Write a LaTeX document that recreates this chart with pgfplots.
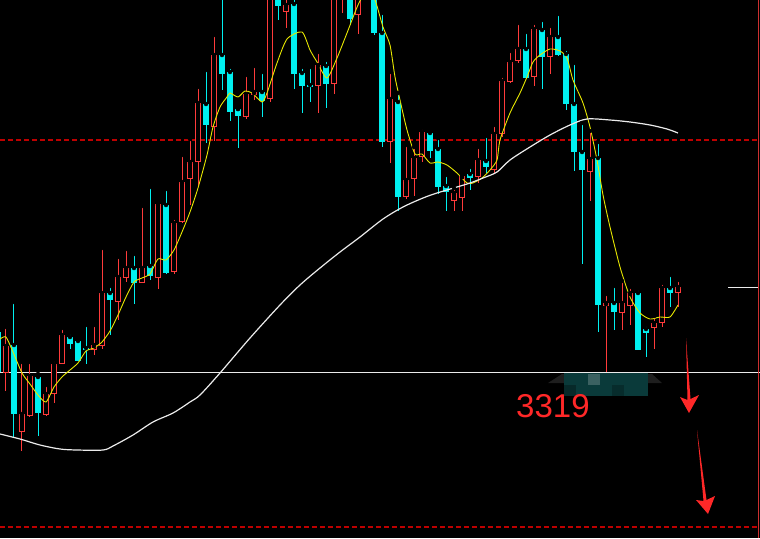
\documentclass[border=0pt]{standalone}
\usepackage{pgfplots}
\usepackage{pgfplotstable}
\pgfplotsset{compat=1.18}
\usepackage{fontspec}
\setmainfont{Liberation Sans}
\definecolor{candlered}{RGB}{255,59,59}
\definecolor{candlecyan}{RGB}{0,240,240}
\definecolor{mayellow}{RGB}{232,232,0}
\definecolor{mawhite}{RGB}{235,235,235}
\definecolor{dashred}{RGB}{190,0,0}
\definecolor{txtred}{RGB}{255,40,40}
\definecolor{blurA}{RGB}{30,30,30}
\definecolor{blurB}{RGB}{10,58,58}

% pixel-style coordinates: x = position, values measured from top
\pgfplotstableread{
x h top bot l
6 327 346 373 391
22 362 414 432 451
30 362 376 416 417
46 385 394 415 416
54 360 364 394 403
62 328 335 364 364
94 325 345 350 355
102 248 293 346 349
118 257 277 302 320
126 249 268 278 282
142 206 268 283 283
158 203 204 278 289
174 218 223 272 274
182 155 182 222 223
190 139 162 179 205
198 87 103 162 187
214 35 55 127 141
246 75 94 117 119
254 66 92 95 100
270 -10 -5 99 102
286 -5 5 12 28
318 52 65 86 113
334 -10 -5 84 94
342 -20 -15 -10 13
358 -10 -5 15 34
390 72 99 142 163
406 145 180 197 199
414 147 158 179 196
422 128 132 157 162
454 188 193 201 211
462 174 176 198 211
478 147 160 177 183
494 125 134 170 174
502 76 81 134 137
510 51 62 82 83
518 23 49 61 63
534 23 29 77 86
550 26 37 57 74
590 131 159 172 201
606 294 303 306 372
622 281 303 313 330
630 287 293 306 325
654 316 323 328 349
662 283 288 323 327
678 280 287 293 307
}\redtab

\pgfplotstableread{
x h top bot l
-2 320 332 372 380
14 302 345 414 438
38 374 377 413 436
70 333 337 344 349
78 339 341 361 361
86 325 348 350 364
110 286 293 300 335
134 254 268 283 304
150 187 266 276 280
166 189 205 273 274
206 70 104 125 143
222 -5 55 74 90
230 67 72 112 121
238 109 109 116 148
262 72 92 101 117
278 -10 -5 6 20
294 -5 4 74 89
302 67 73 86 113
310 67 85 87 102
326 60 66 84 108
350 -10 -5 19 25
374 -10 -5 33 35
382 13 33 142 147
398 93 102 197 211
430 131 133 151 158
438 138 149 187 194
446 175 186 192 211
470 167 174 178 190
486 136 161 167 173
526 32 49 78 78
542 20 30 57 89
558 14 37 55 56
566 49 54 104 110
574 63 104 152 171
582 123 152 170 264
598 142 158 305 332
614 286 303 312 330
638 289 293 350 350
646 325 329 333 357
670 275 288 293 307
}\cyantab

\begin{document}
\begin{tikzpicture}
\fill[black] (0,0) rectangle (760pt,538pt);
\useasboundingbox (0,0) rectangle (760pt,538pt);
\begin{axis}[
  width=760pt, height=538pt, scale only axis,
  xmin=0, xmax=760, ymin=0, ymax=538,
  y dir=reverse, hide axis, clip=true,
]
% horizontal reference lines
\addplot[dashred, line width=1.1pt, dash pattern=on 5pt off 3pt] coordinates {(0,140) (760,140)};
\addplot[dashred, line width=1.1pt, dash pattern=on 5pt off 3pt] coordinates {(0,527) (760,527)};
\addplot[mawhite, line width=1pt] coordinates {(0,372) (760,372)};
\addplot[mawhite, line width=1pt] coordinates {(728,287) (758,287)};
\addplot[candlered!80!black, line width=0.8pt] coordinates {(758.5,0) (758.5,538)};

% wicks
\addplot[only marks, mark=none, error bars/.cd, y dir=plus, y explicit, error mark=none,
  error bar style={line width=1pt, candlered}]
  table[x=x, y=h, y error expr=\thisrow{l}-\thisrow{h}] {\redtab};
\addplot[only marks, mark=none, error bars/.cd, y dir=plus, y explicit, error mark=none,
  error bar style={line width=1pt, candlecyan}]
  table[x=x, y=h, y error expr=\thisrow{l}-\thisrow{h}] {\cyantab};
% bodies
\addplot[only marks, mark=none, error bars/.cd, y dir=plus, y explicit, error mark=none,
  error bar style={line width=6.8pt, candlered}]
  table[x=x, y=top, y error expr=\thisrow{bot}-\thisrow{top}] {\redtab};
\addplot[only marks, mark=none, error bars/.cd, y dir=plus, y explicit, error mark=none,
  error bar style={line width=4.6pt, black}]
  table[x=x, y expr=\thisrow{top}+1.1, y error expr={max(\thisrow{bot}-\thisrow{top}-2.2,0)}] {\redtab};
\addplot[only marks, mark=none, error bars/.cd, y dir=plus, y explicit, error mark=none,
  error bar style={line width=6.8pt, candlecyan}]
  table[x=x, y=top, y error expr=\thisrow{bot}-\thisrow{top}] {\cyantab};

% moving averages
\addplot[mayellow, line width=0.9pt, smooth, tension=0.4] coordinates {
(0,339) (6,337) (13,352) (22,373) (30,384) (38,395) (46,402) (54,387) (62,377) (70,370)
(78,363) (86,351) (94,348) (102,342) (110,331) (118,315) (126,297) (134,282) (142,278)
(150,274) (158,259) (166,260) (174,250) (182,232) (190,212) (198,188) (207,155) (213,127)
(220,107) (227,97) (230,93) (238,97) (245,91) (252,93) (262,102) (267,93) (277,63) (287,39)
(302,32) (310,50) (317,62) (327,78) (337,58) (347,33) (358,5) (367,-10) (375,0) (383,27)
(390,45) (395,77) (400,100) (407,130) (415,154) (422,154) (430,163) (438,162) (447,165)
(457,173) (467,183) (473,183) (482,178) (490,170) (497,160) (500,140) (510,113) (520,93)
(527,77) (533,62) (540,55) (550,49) (560,51) (567,58) (573,80) (583,103) (590,127) (597,160)
(603,195) (610,227) (620,267) (630,297) (640,313) (650,319) (660,317) (670,317) (678,305)};
\addplot[mawhite, line width=1.2pt, smooth] coordinates {
(0,434) (20,439) (40,445) (60,449) (77,450) (103,450) (113,446) (133,435) (153,422)
(173,413) (190,402) (200,395) (220,373) (250,338) (280,305) (300,285) (320,268) (340,252)
(360,237) (383,219) (403,207) (423,198) (437,193) (457,187) (470,183) (483,178) (497,172)
(510,160) (530,147) (550,135) (570,125) (587,119) (610,120) (630,122) (650,125) (667,129)
(678,133)};

% redacted label
\fill[blurA] (axis cs:548,383) -- (axis cs:562,374) -- (axis cs:652,374) -- (axis cs:662,383) -- cycle;
\fill[blurB] (axis cs:564,373) rectangle (axis cs:648,396);
\fill[blurB!70!black] (axis cs:564,385) rectangle (axis cs:576,396);
\fill[blurB!80!white] (axis cs:588,374) rectangle (axis cs:600,385);
\fill[blurB!75!black] (axis cs:612,385) rectangle (axis cs:624,396);

\node[anchor=base west, inner sep=0pt, text=txtred, font=\fontsize{33}{33}\selectfont] at (axis cs:516,417) {3319};

% arrows
\fill[txtred] (axis cs:686,338) -- (axis cs:690.5,399) -- (axis cs:699,395) -- (axis cs:689,413) -- (axis cs:680,397) -- (axis cs:687.5,400) -- cycle;
\fill[txtred] (axis cs:697,430) -- (axis cs:706.5,500) -- (axis cs:715,496) -- (axis cs:708,514) -- (axis cs:696,500) -- (axis cs:703.5,501) -- cycle;
\end{axis}
\end{tikzpicture}
\end{document}
